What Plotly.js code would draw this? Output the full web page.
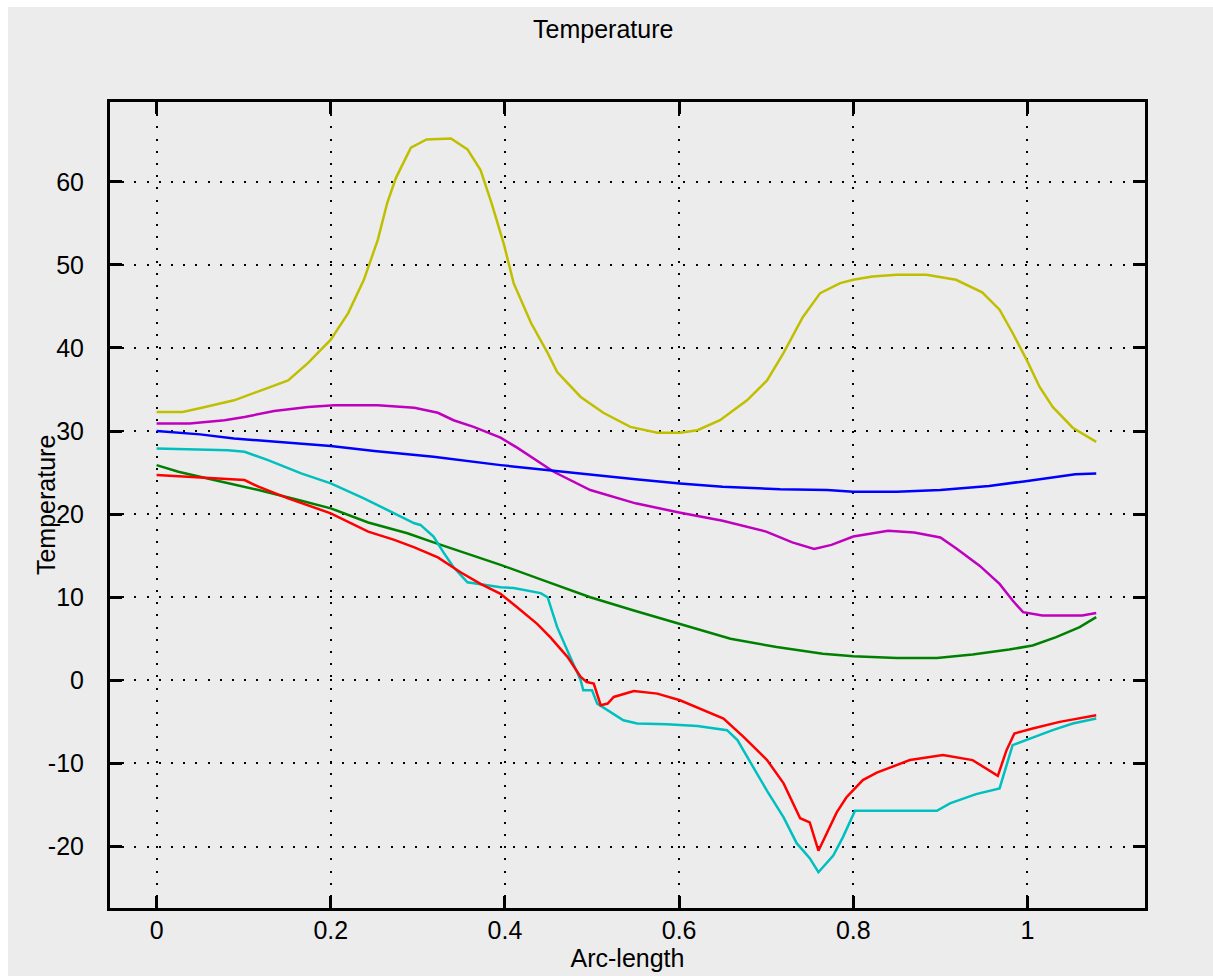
<!DOCTYPE html>
<html>
<head>
<meta charset="utf-8">
<script src="https://cdn.plot.ly/plotly-3.0.1.min.js"></script>
<style>
  html, body { margin: 0; padding: 0; background: #ffffff; width: 1213px; height: 976px; overflow: hidden; }
  #chart { position: absolute; left: 8px; top: 7px; width: 1205px; height: 969px; }
</style>
</head>
<body>
<div id="chart"></div>
<script>
// ---- data ----
const yellowX = [0,0.03,0.052,0.089,0.128,0.151,0.174,0.2,0.22,0.238,0.254,0.265,0.275,0.292,0.31,0.338,0.357,0.372,0.385,0.399,0.41,0.43,0.449,0.46,0.487,0.513,0.544,0.575,0.601,0.621,0.647,0.678,0.701,0.72,0.742,0.762,0.785,0.8,0.822,0.85,0.884,0.918,0.948,0.968,0.983,0.999,1.014,1.029,1.052,1.079];
const yellowY = [32.3,32.3,32.8,33.7,35.2,36.1,38.2,41.0,44.2,48.2,53.0,57.5,60.5,64.1,65.1,65.2,63.9,61.4,57.3,52.4,47.8,43.0,39.4,37.1,34.1,32.2,30.5,29.8,29.8,30.1,31.3,33.7,36.1,39.4,43.7,46.6,47.8,48.2,48.6,48.8,48.8,48.2,46.7,44.6,41.8,38.6,35.3,32.9,30.4,28.7];

const magentaX = [0,0.038,0.078,0.101,0.135,0.174,0.204,0.254,0.296,0.323,0.341,0.364,0.395,0.414,0.456,0.498,0.55,0.6,0.65,0.7,0.73,0.755,0.775,0.8,0.84,0.87,0.9,0.918,0.945,0.968,0.983,0.995,1.017,1.063,1.079];
const magentaY = [30.9,30.9,31.3,31.7,32.4,32.9,33.1,33.1,32.8,32.2,31.3,30.5,29.2,28.0,25.1,22.9,21.3,20.2,19.2,17.9,16.6,15.8,16.3,17.3,18.0,17.8,17.2,15.9,13.8,11.6,9.6,8.2,7.8,7.8,8.1];

const blueX = [0,0.05,0.089,0.15,0.2,0.25,0.318,0.395,0.45,0.5,0.55,0.601,0.65,0.716,0.77,0.8,0.85,0.9,0.956,1.0,1.025,1.055,1.079];
const blueY = [30.0,29.6,29.1,28.6,28.2,27.6,26.9,25.9,25.3,24.7,24.2,23.7,23.3,23.0,22.9,22.7,22.7,22.9,23.4,24.0,24.4,24.8,24.9];

const greenX = [0,0.025,0.066,0.117,0.163,0.2,0.243,0.288,0.318,0.357,0.395,0.445,0.498,0.548,0.601,0.659,0.712,0.765,0.8,0.85,0.896,0.937,0.979,1.006,1.033,1.06,1.079];
const greenY = [25.9,25.1,24.1,22.9,21.7,20.7,19.0,17.7,16.6,15.2,13.9,12.0,10.0,8.4,6.8,5.0,4.0,3.2,2.9,2.7,2.7,3.1,3.7,4.2,5.2,6.4,7.6];

const cyanX = [0,0.04,0.082,0.101,0.128,0.166,0.2,0.238,0.269,0.296,0.303,0.318,0.33,0.341,0.357,0.395,0.41,0.441,0.449,0.46,0.475,0.487,0.49,0.5,0.506,0.521,0.536,0.552,0.586,0.621,0.655,0.667,0.685,0.701,0.72,0.735,0.75,0.76,0.777,0.788,0.802,0.896,0.911,0.941,0.968,0.974,0.983,1.006,1.029,1.052,1.079];
const cyanY = [27.9,27.8,27.7,27.5,26.5,24.9,23.7,21.9,20.3,18.9,18.7,17.3,15.3,13.6,11.8,11.2,11.1,10.5,10.0,6.4,2.8,0,-1.2,-1.2,-2.8,-3.8,-4.8,-5.2,-5.3,-5.5,-6.0,-7.2,-10.5,-13.3,-16.5,-19.6,-21.4,-23.1,-21.1,-18.9,-15.7,-15.7,-14.8,-13.7,-13.0,-10.8,-7.8,-6.9,-6.0,-5.2,-4.6];

const redX = [0,0.052,0.101,0.117,0.151,0.2,0.243,0.273,0.296,0.323,0.349,0.372,0.395,0.414,0.437,0.452,0.472,0.487,0.494,0.502,0.51,0.518,0.525,0.548,0.575,0.601,0.628,0.651,0.674,0.701,0.72,0.739,0.75,0.76,0.781,0.792,0.811,0.827,0.865,0.903,0.937,0.953,0.966,0.976,0.985,1.006,1.037,1.079];
const redY = [24.7,24.4,24.1,23.3,21.9,20.1,17.9,16.9,16.0,14.8,13.0,11.6,10.4,8.8,6.8,5.2,2.8,0.4,-0.2,-0.4,-3.0,-2.8,-2.0,-1.3,-1.6,-2.4,-3.6,-4.6,-6.8,-9.6,-12.4,-16.6,-17.1,-20.5,-15.9,-14.1,-12.0,-11.1,-9.6,-9.0,-9.6,-10.6,-11.5,-8.4,-6.4,-5.8,-5.0,-4.2];

const xTickVals = [0, 0.2, 0.4, 0.6, 0.8, 1];
const xTickText = ["0", "0.2", "0.4", "0.6", "0.8", "1"];
const yTickVals = [-20, -10, 0, 10, 20, 30, 40, 50, 60];
const yTickText = ["-20", "-10", "0", "10", "20", "30", "40", "50", "60"];

const chartTitle = "Temperature";
const xTitle = "Arc-length";
const yTitle = "Temperature";

// ---- build traces ----
function line(x, y, color) {
  return { x: x, y: y, type: "scatter", mode: "lines",
           line: { color: color, width: 2.5 }, hoverinfo: "skip", showlegend: false };
}
const traces = [
  line(yellowX, yellowY, "#BFBF00"),
  line(magentaX, magentaY, "#BF00BF"),
  line(blueX, blueY, "#0000FF"),
  line(greenX, greenY, "#008000"),
  line(cyanX, cyanY, "#00BFBF"),
  line(redX, redY, "#FF0000")
];

const fontFam = "Liberation Sans, Arial, Helvetica, sans-serif";
const bg = "#ECECEC";
const txtFont = { family: fontFam, size: 25, color: "#000000" };

const commonAxis = {
  showline: true, linecolor: "#000000", linewidth: 3, mirror: "ticks",
  ticks: "inside", ticklen: 12, tickwidth: 3, tickcolor: "#000000",
  showgrid: true, gridcolor: "#000000", gridwidth: 2, griddash: "2px,10.2px",
  zeroline: false, tickfont: txtFont, automargin: false,
  fixedrange: true
};

const layout = {
  width: 1205, height: 969,
  paper_bgcolor: bg, plot_bgcolor: bg,
  margin: { l: 102, r: 68, t: 95, b: 68, pad: 0 },
  title: { text: chartTitle, x: 0.494, xref: "container", xanchor: "center",
           y: 0.977, yref: "container", yanchor: "middle", font: txtFont },
  xaxis: Object.assign({}, commonAxis, {
    range: [-0.0535, 1.135], tickmode: "array", tickvals: xTickVals, ticktext: xTickText,
    ticklabelstandoff: -2,
    title: { text: xTitle, font: txtFont, standoff: 5 }
  }),
  yaxis: Object.assign({}, commonAxis, {
    range: [-27.4, 69.6], tickmode: "array", tickvals: yTickVals, ticktext: yTickText,
    ticklabelstandoff: 18
  }),
  annotations: [
    { text: yTitle, xref: "paper", yref: "paper", x: -0.0618, y: 0.5,
      xanchor: "center", yanchor: "middle", textangle: -90, showarrow: false, font: txtFont }
  ]
};

Plotly.newPlot("chart", traces, layout, { displayModeBar: false, staticPlot: true });
</script>
</body>
</html>
